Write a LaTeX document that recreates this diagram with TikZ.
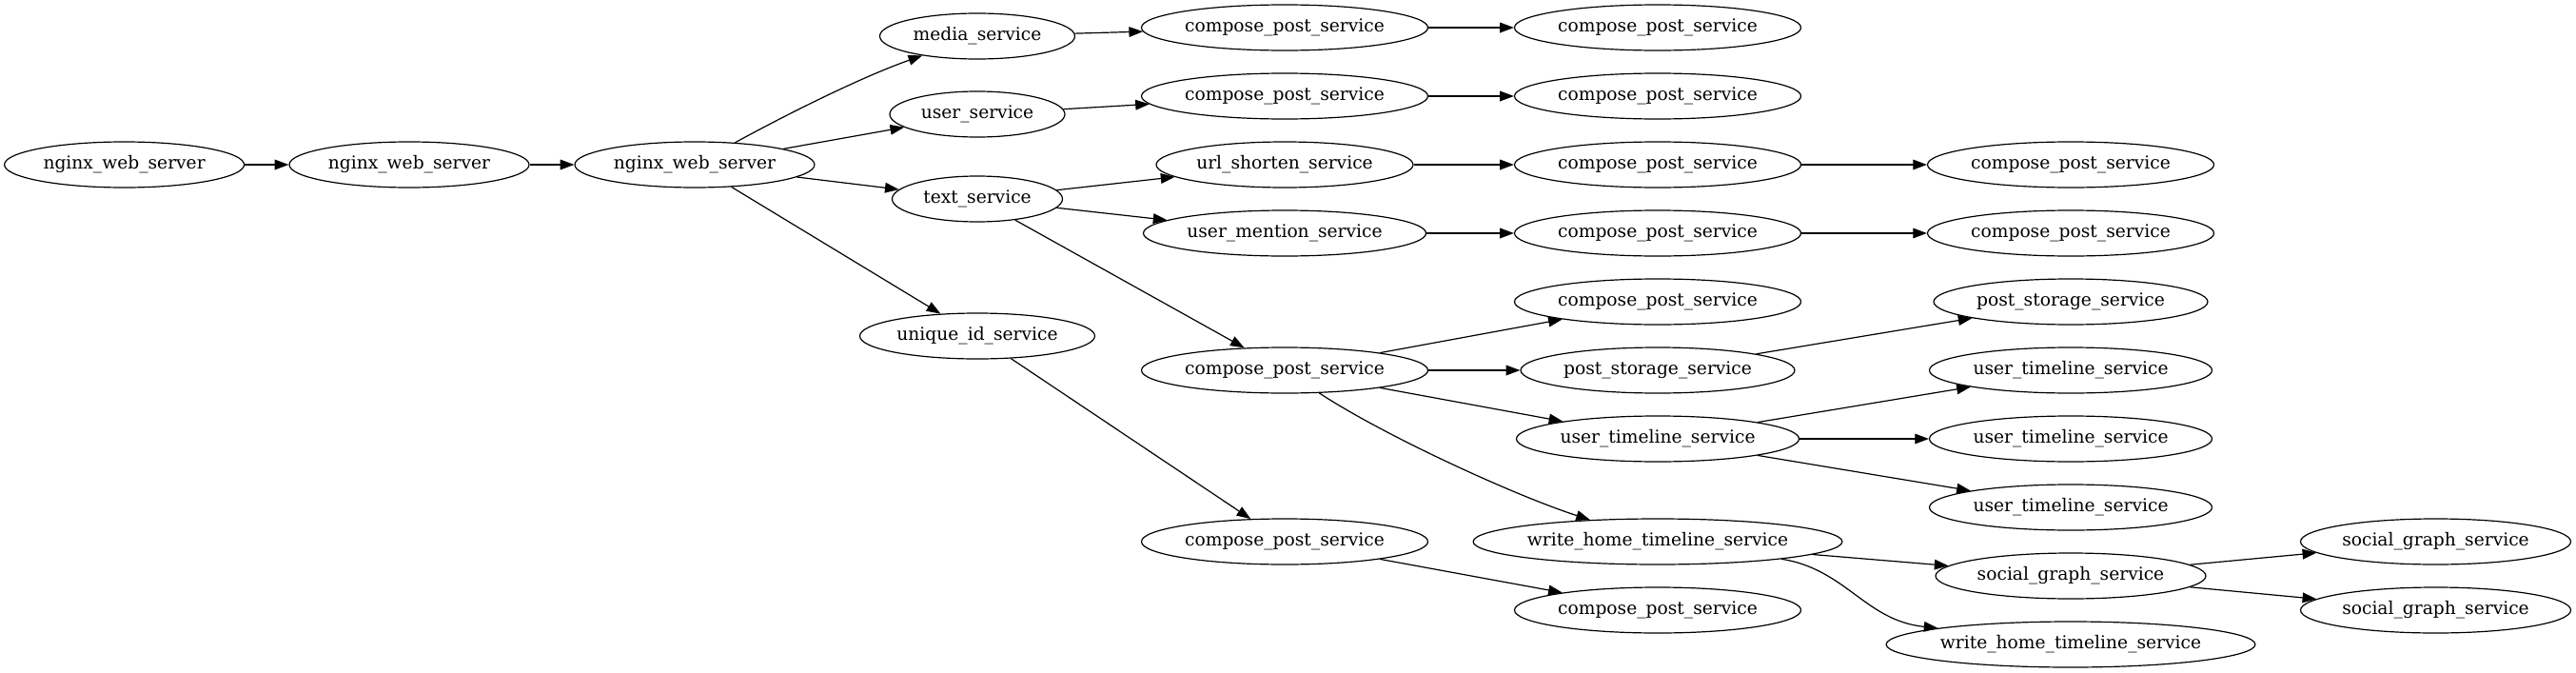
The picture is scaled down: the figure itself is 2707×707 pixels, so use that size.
\documentclass[tikz,border=0pt]{standalone}
\usepackage{fontspec}
\setmainfont{DejaVu Serif}
\usetikzlibrary{arrows.meta,shapes.geometric}

\tikzset{
    svc/.style={ellipse, draw, line width=0.9pt, inner sep=0pt,
        minimum height=36pt, font=\fontsize{14}{16}\selectfont},
    websrv/.style={svc, minimum width=189pt},
    mediasvc/.style={svc, minimum width=153.75pt},
    usersvc/.style={svc, minimum width=138pt},
    textsvc/.style={svc, minimum width=134.25pt},
    uidsvc/.style={svc, minimum width=185.25pt},
    cpssvc/.style={svc, minimum width=225.75pt},
    urlsvc/.style={svc, minimum width=202.5pt},
    mentionsvc/.style={svc, minimum width=222.75pt},
    storesvc/.style={svc, minimum width=216pt},
    utlsvc/.style={svc, minimum width=222.75pt},
    whtlsvc/.style={svc, minimum width=289.5pt},
    socialsvc/.style={svc, minimum width=213pt},
    flow/.style={line width=0.9pt, -{Triangle[length=11pt,width=8pt]}}
}

\begin{document}
\begin{tikzpicture}[x=0.75pt, y=-0.75pt]

    \useasboundingbox (0,0) rectangle (2707,707);

    % === NGINX CHAIN ===
    \node[websrv] (web1) at (130.6,173) {nginx\_web\_server};
    \node[websrv] (web2) at (430,173) {nginx\_web\_server};
    \node[websrv] (web3) at (730,173) {nginx\_web\_server};

    % === FIRST TIER ===
    \node[mediasvc] (media) at (1027,38) {media\_service};
    \node[usersvc] (user) at (1027,120) {user\_service};
    \node[textsvc] (text) at (1027,209) {text\_service};
    \node[uidsvc] (uid) at (1027,353) {unique\_id\_service};

    % === SECOND TIER ===
    \node[cpssvc] (cpsA) at (1350,29) {compose\_post\_service};
    \node[cpssvc] (cpsB) at (1350,101) {compose\_post\_service};
    \node[urlsvc] (url) at (1350,173) {url\_shorten\_service};
    \node[mentionsvc] (mention) at (1350,245) {user\_mention\_service};
    \node[cpssvc] (cpsmain) at (1350,389) {compose\_post\_service};
    \node[cpssvc] (cpsuid) at (1350,569) {compose\_post\_service};

    % === THIRD TIER ===
    \node[cpssvc] (cpsA2) at (1742,29) {compose\_post\_service};
    \node[cpssvc] (cpsB2) at (1742,101) {compose\_post\_service};
    \node[cpssvc] (cpsC) at (1742,173) {compose\_post\_service};
    \node[cpssvc] (cpsD) at (1742,245) {compose\_post\_service};
    \node[cpssvc] (cpsE) at (1742,317) {compose\_post\_service};
    \node[storesvc] (store) at (1742,389) {post\_storage\_service};
    \node[utlsvc] (utl) at (1742,461) {user\_timeline\_service};
    \node[whtlsvc] (whtl) at (1742,569) {write\_home\_timeline\_service};
    \node[cpssvc] (cpsuid2) at (1742,641) {compose\_post\_service};

    % === FOURTH TIER ===
    \node[cpssvc] (cpsC2) at (2176,173) {compose\_post\_service};
    \node[cpssvc] (cpsD2) at (2176,245) {compose\_post\_service};
    \node[storesvc] (store2) at (2176,317) {post\_storage\_service};
    \node[utlsvc] (utlA) at (2176,389) {user\_timeline\_service};
    \node[utlsvc] (utlB) at (2176,461) {user\_timeline\_service};
    \node[utlsvc] (utlC) at (2176,533) {user\_timeline\_service};
    \node[socialsvc] (social) at (2176,605) {social\_graph\_service};
    \node[whtlsvc] (whtl2) at (2176,677) {write\_home\_timeline\_service};

    % === FIFTH TIER ===
    \node[socialsvc] (socialA) at (2559.5,569) {social\_graph\_service};
    \node[socialsvc] (socialB) at (2559.5,641) {social\_graph\_service};

    % === EDGES ===
    \draw[flow] (web1) -- (web2);
    \draw[flow] (web2) -- (web3);
    \draw[flow] (web3) .. controls (827,120) and (905,81) .. (media);
    \draw[flow] (web3) -- (user);
    \draw[flow] (web3) -- (text);
    \draw[flow] (web3) -- (uid);

    \draw[flow] (media) -- (cpsA);
    \draw[flow] (cpsA) -- (cpsA2);
    \draw[flow] (user) -- (cpsB);
    \draw[flow] (cpsB) -- (cpsB2);

    \draw[flow] (text) -- (url);
    \draw[flow] (url) -- (cpsC);
    \draw[flow] (cpsC) -- (cpsC2);
    \draw[flow] (text) -- (mention);
    \draw[flow] (mention) -- (cpsD);
    \draw[flow] (cpsD) -- (cpsD2);
    \draw[flow] (text) -- (cpsmain);

    % Fan-out of the main compose node
    \draw[flow] (cpsmain) -- (cpsE);
    \draw[flow] (cpsmain) -- (store);
    \draw[flow] (cpsmain) -- (utl);
    \draw[flow] (cpsmain) .. controls (1455,458) and (1593,521) .. (whtl);

    \draw[flow] (store) -- (store2);
    \draw[flow] (utl) -- (utlA);
    \draw[flow] (utl) -- (utlB);
    \draw[flow] (utl) -- (utlC);

    \draw[flow] (whtl) -- (social);
    \draw[flow] (whtl.-8) .. controls (1940,598) and (1960,652) .. (whtl2.173);
    \draw[flow] (social) -- (socialA);
    \draw[flow] (social) -- (socialB);

    \draw[flow] (uid) -- (cpsuid);
    \draw[flow] (cpsuid) -- (cpsuid2);

\end{tikzpicture}
\end{document}
